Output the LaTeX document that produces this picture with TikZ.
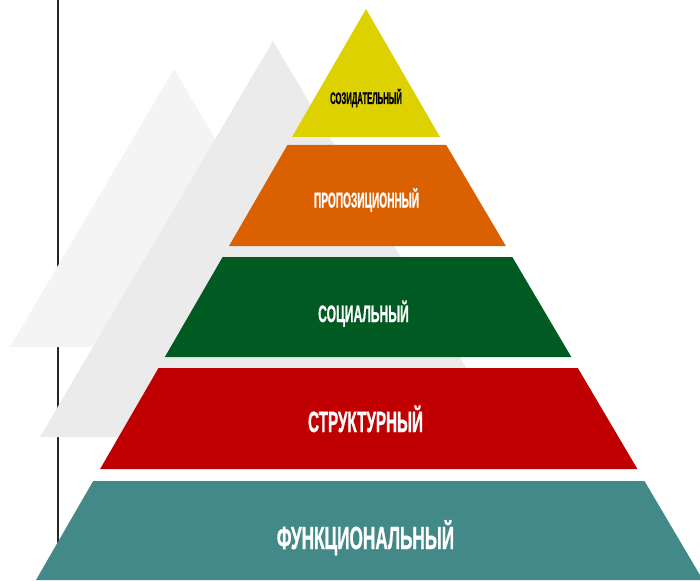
\documentclass[tikz,border=0pt]{standalone}
\usepackage{fontspec}
\usepackage{graphicx}
\newfontfamily\labelfont[FakeStretch=0.52,FakeBold=0.8]{Liberation Sans}

\definecolor{shadelight}{HTML}{F4F4F4}
\definecolor{shadedark}{HTML}{EBEBEB}
\definecolor{tierone}{HTML}{DDD200}
\definecolor{tiertwo}{HTML}{DB6000}
\definecolor{tierthree}{HTML}{005A21}
\definecolor{tierfour}{HTML}{C00000}
\definecolor{tierfive}{HTML}{428987}

% trapezoid slice of the pyramid between heights #2 (top) and #3 (bottom);
% the left flank runs a little steeper than the right one
\newcommand{\pyrslice}[3]{%
  \fill[#1] ({366-0.578*(#2-9)},#2) -- ({366+0.59*(#2-9)},#2)
    -- ({366+0.59*(#3-9)},#3) -- ({366-0.578*(#3-9)},#3) -- cycle;}

\begin{document}
\begin{tikzpicture}[x=1pt,y=-1pt,
  tierlabel/.style={text=white, inner sep=0pt, anchor=base}]
\useasboundingbox (0,0) rectangle (700,580);
\clip (0,0) rectangle (700,580);

% axis line behind the shapes
\draw[line width=1.3pt, black!85] (58,0) -- (58,560);

% background silhouettes
\fill[shadelight] (174,69) -- (338,347) -- (10,347) -- cycle;
\fill[shadedark] (273,41) -- (507,437) -- (40,437) -- cycle;

% pyramid tiers
\fill[tierone] (366,9) -- ({366+0.578*128},137) -- ({366-0.578*128},137) -- cycle;
\pyrslice{tiertwo}{145}{246}
\pyrslice{tierthree}{257}{357}
\pyrslice{tierfour}{368}{469}
\pyrslice{tierfive}{481}{580}

% tier labels
\node[tierlabel, text=black, font=\labelfont\bfseries\fontsize{16.8}{17}\selectfont] (creative) at (366,104) {\scalebox{0.88}[1]{СОЗИДАТЕЛЬНЫЙ}};
\node[tierlabel, font=\labelfont\bfseries\fontsize{21.4}{22}\selectfont] (propositional) at (366.5,207.5) {\scalebox{0.91}[1]{ПРОПОЗИЦИОННЫЙ}};
\node[tierlabel, font=\labelfont\bfseries\fontsize{23.7}{24}\selectfont] (social) at (363.5,322) {\scalebox{0.98}[1]{СОЦИАЛЬНЫЙ}};
\node[tierlabel, font=\labelfont\bfseries\fontsize{29.3}{30}\selectfont] (structural) at (365.5,432) {СТРУКТУРНЫЙ};
\node[tierlabel, font=\labelfont\bfseries\fontsize{32}{32}\selectfont] (functional) at (365.5,549) {\scalebox{1.035}[1]{ФУНКЦИОНАЛЬНЫЙ}};
\end{tikzpicture}
\end{document}
